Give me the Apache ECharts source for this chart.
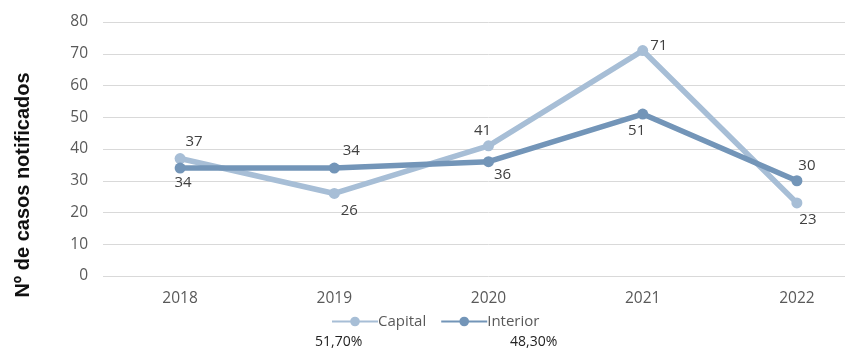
<!DOCTYPE html>
<html>
<head>
<meta charset="utf-8">
<script src="https://cdn.jsdelivr.net/npm/echarts@6/dist/echarts.min.js"></script>
<style>html,body{margin:0;padding:0;background:#fff;overflow:hidden;width:845px;height:350px;}#c{width:874px;height:350px;}</style>
</head>
<body>
<div id="c"></div>
<script>
const categories = ['2018', '2019', '2020', '2021', '2022'];
const capital = [37, 26, 41, 71, 23];
const interior = [34, 34, 36, 51, 30];
const yTicks = [0, 10, 20, 30, 40, 50, 60, 70, 80];
const seriesNames = ['Capital', 'Interior'];
const shares = ['51,70%', '48,30%'];
const yTitle = 'Nº de casos notificados';

const capitalLabels = [
  {position: 'top', offset: [14, 0]},
  {position: 'bottom', offset: [15, 0]},
  {position: 'top', offset: [-6, 2]},
  {position: 'right', offset: [-2, -5]},
  {position: 'bottom', offset: [11, 0]}
];
const interiorLabels = [
  {position: 'bottom', offset: [3, -2]},
  {position: 'top', offset: [17, 0]},
  {position: 'bottom', offset: [14, -4]},
  {position: 'bottom', offset: [-6, 0]},
  {position: 'top', offset: [10, 2]}
];

function build(vals, labs) {
  return vals.map((v, i) => ({value: v, label: labs[i]}));
}

const chart = echarts.init(document.getElementById('c'), null, {renderer: 'canvas'});
const labelStyle = {show: true, color: '#404040', fontSize: 15, fontFamily: 'Open Sans, Liberation Sans, sans-serif', distance: 4};
chart.setOption({
  animation: false,
  grid: {left: 103, right: 0, top: 22, bottom: 74},
  xAxis: {
    type: 'category', data: categories, boundaryGap: true,
    axisLine: {show: false}, axisTick: {show: false},
    axisLabel: {color: '#595959', fontSize: 15.5, fontFamily: 'Open Sans, Liberation Sans, sans-serif', margin: 15}
  },
  yAxis: {
    type: 'value', min: yTicks[0], max: yTicks[yTicks.length - 1], interval: 10,
    axisLine: {show: false}, axisTick: {show: false},
    splitLine: {lineStyle: {color: '#d9d9d9', width: 1}},
    axisLabel: {color: '#595959', fontSize: 15.5, fontFamily: 'Open Sans, Liberation Sans, sans-serif', margin: 15}
  },
  legend: {
    data: seriesNames, left: 326, top: 309, itemWidth: 46, itemHeight: 12, itemGap: 14,
    textStyle: {color: '#595959', fontSize: 15, fontFamily: 'Open Sans, Liberation Sans, sans-serif', padding: [0, 0, 0, -5]}
  },
  series: [
    {name: seriesNames[0], type: 'line', data: build(capital, capitalLabels),
     symbol: 'circle', symbolSize: 11, lineStyle: {width: 5.5, color: '#a7bed6'},
     itemStyle: {color: '#a7bed6'}, label: labelStyle, z: 2},
    {name: seriesNames[1], type: 'line', data: build(interior, interiorLabels),
     symbol: 'circle', symbolSize: 11, lineStyle: {width: 5.5, color: '#7395b8'},
     itemStyle: {color: '#7395b8'}, label: labelStyle, z: 3}
  ],
  graphic: [
    {type: 'text', x: 23, y: 185, rotation: Math.PI / 2,
     style: {text: yTitle, fill: '#111', font: 'bold 20px "Liberation Sans", Arial, sans-serif',
             textAlign: 'center', textVerticalAlign: 'middle'}},
    {type: 'text', x: 315, y: 335, style: {text: shares[0], fill: '#222', font: '14px "Open Sans", "Liberation Sans", sans-serif'}},
    {type: 'text', x: 510, y: 335, style: {text: shares[1], fill: '#222', font: '14px "Open Sans", "Liberation Sans", sans-serif'}}
  ]
});
</script>
</body>
</html>
